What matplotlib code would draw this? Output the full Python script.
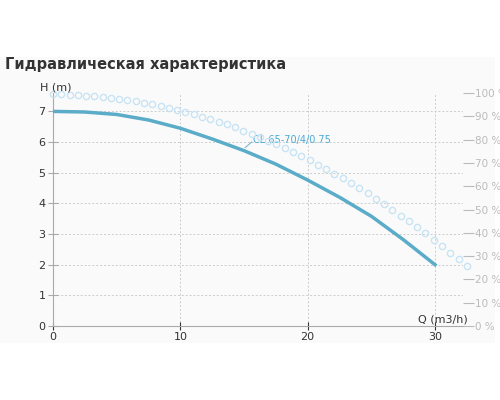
import matplotlib
matplotlib.use("Agg")
import matplotlib.pyplot as plt
from matplotlib.patches import Rectangle

q_h = [0, 2.5, 5, 7.5, 10, 12.5, 15, 17.5, 20, 22.5, 25, 27.5, 30]
h_vals = [7.0, 6.98, 6.9, 6.72, 6.45, 6.1, 5.72, 5.28, 4.76, 4.2, 3.58, 2.82, 2.0]
q_eff = [0, 0.65, 1.3, 1.95, 2.6, 3.25, 3.9, 4.55, 5.2, 5.85, 6.5, 7.15, 7.8, 8.45, 9.1, 9.75,
         10.4, 11.05, 11.7, 12.35, 13.0, 13.65, 14.3, 14.95, 15.6, 16.25, 16.9, 17.55, 18.2, 18.85,
         19.5, 20.15, 20.8, 21.45, 22.1, 22.75, 23.4, 24.05, 24.7, 25.35, 26.0, 26.65, 27.3, 27.95,
         28.6, 29.25, 29.9, 30.55, 31.2, 31.85, 32.5]
eff_vals = [99.5, 99.4, 99.3, 99.1, 98.9, 98.6, 98.3, 97.9, 97.5, 97.0, 96.4, 95.8, 95.1, 94.4, 93.6, 92.8,
            91.9, 90.9, 89.9, 88.8, 87.7, 86.5, 85.2, 83.9, 82.5, 81.1, 79.6, 78.0, 76.4, 74.7,
            73.0, 71.2, 69.3, 67.4, 65.4, 63.4, 61.3, 59.1, 56.9, 54.6, 52.3, 49.9, 47.4, 44.9,
            42.3, 39.7, 37.0, 34.3, 31.5, 28.7, 25.9]
h_ticks = [0, 1, 2, 3, 4, 5, 6, 7]
q_ticks = [0, 10, 20, 30]
pct_ticks = [0, 10, 20, 30, 40, 50, 60, 70, 80, 90, 100]
curve_label = "CL 65-70/4/0.75"

fig = plt.figure(figsize=(5, 4), dpi=100)
bg = Rectangle((0, 1 - 343/400), 0.99, (343-57)/400, transform=fig.transFigure,
               facecolor="#fafafa", edgecolor="none", zorder=-10)
fig.add_artist(bg)
fig.text(0.01, 1 - 65/400, "Гидравлическая характеристика", fontsize=10.5, fontweight="bold",
         color="#333333", va="center")

ax = fig.add_axes([53/500, 1 - 326/400, (463-53)/500, (326-93)/400])
ax.set_facecolor("none")
ax.set_xlim(0, 32.2)
ax.set_ylim(0, 7.6)
ax2 = ax.twinx()
ax2.set_ylim(0, 99.7)
ax2.set_facecolor("none")

ax.set_xticks(q_ticks)
ax.set_yticks(h_ticks)
ax.grid(True, color="#cccccc", linestyle=(0, (2, 2)), linewidth=0.7)
for s in ["top", "right"]:
    ax.spines[s].set_visible(False)
for s in ["top", "right", "left", "bottom"]:
    ax2.spines[s].set_visible(False)
ax.spines["left"].set_color("#aaaaaa")
ax.spines["bottom"].set_color("#aaaaaa")
ax.tick_params(axis="y", direction="inout", length=7, color="#aaaaaa", labelsize=8, labelcolor="#333333", pad=2)
ax.tick_params(axis="x", direction="inout", length=6, color="#333333", labelsize=8, labelcolor="#333333", pad=1)

ax2.set_yticks(pct_ticks)
ax2.set_yticklabels([f"{p} %" for p in pct_ticks])
ax2.tick_params(axis="y", direction="out", length=8, color="#bbbbbb", labelsize=7.5, labelcolor="#bbbbbb", pad=1)

ax2.plot(q_eff, eff_vals, linestyle="none", marker="o", markersize=4.5, markerfacecolor="none",
         markeredgecolor="#c8e4f4", markeredgewidth=1, clip_on=False)
ax.plot(q_h, h_vals, color="#5aacc8", linewidth=2.5, zorder=5)
ax.plot([15.1, 15.6], [5.82, 6.0], color="#7ab8d0", linewidth=0.8)
ax.text(15.7, 6.06, curve_label, fontsize=7, color="#4aaad6", va="center")

fig.text(40/500, 1 - 88/400, "H (m)", fontsize=8, color="#333333", va="center")
fig.text(418/500, 1 - 320/400, "Q (m3/h)", fontsize=8, color="#333333", va="center")

fig.savefig("out.png", dpi=100)
